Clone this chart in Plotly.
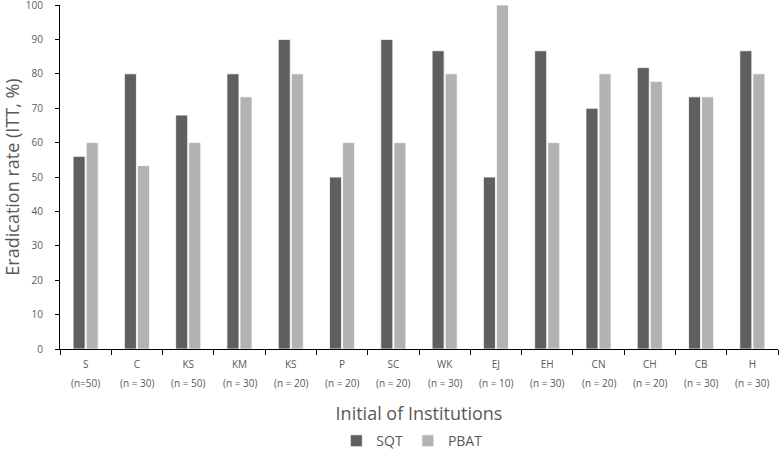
import plotly.graph_objects as go

institutions = ["S", "C", "KS", "KM", "KS", "P", "SC", "WK", "EJ", "EH", "CN", "CH", "CB", "H"]
n_labels = ["(n=50)", "(n = 30)", "(n = 50)", "(n = 30)", "(n = 20)", "(n = 20)", "(n = 20)",
            "(n = 30)", "(n = 10)", "(n = 30)", "(n = 20)", "(n = 20)", "(n = 30)", "(n = 30)"]
sqt = [56, 80, 68, 80, 90, 50, 90, 86.7, 50, 86.7, 70, 81.8, 73.3, 86.7]
pbat = [60, 53.3, 60, 73.3, 80, 60, 60, 80, 100, 60, 80, 77.8, 73.3, 80]
y_ticks = [0, 10, 20, 30, 40, 50, 60, 70, 80, 90, 100]

FONT = "Open Sans"
TXT = "#595959"
pos = list(range(len(institutions)))

fig = go.Figure()
fig.add_trace(go.Bar(x=pos, y=sqt, name="SQT", marker=dict(color="#5f5f5f", line=dict(color="white", width=0.8))))
fig.add_trace(go.Bar(x=pos, y=pbat, name="PBAT", marker=dict(color="#b2b2b2", line=dict(color="white", width=0.8))))

for i, t in zip(pos, n_labels):
    fig.add_annotation(x=i, y=0, xref="x", yref="y", text=t, showarrow=False,
                       yanchor="middle", yshift=-34, font=dict(family=FONT, size=10, color=TXT))

fig.update_layout(
    width=779, height=451,
    margin=dict(l=60, r=1, t=5, b=102, autoexpand=False),
    paper_bgcolor="white", plot_bgcolor="white",
    barmode="group", bargap=0.49, bargroupgap=0.08,
    font=dict(family=FONT, color=TXT),
    showlegend=True,
    legend=dict(orientation="h", x=0.49, xanchor="center", y=-0.268, yanchor="middle",
                font=dict(family=FONT, size=14, color=TXT),
                traceorder="normal"),
)
fig.update_xaxes(
    automargin=False,
    range=[-0.5, len(institutions) - 0.5],
    tickmode="array", tickvals=pos, ticktext=institutions,
    ticks="", showgrid=False, zeroline=False,
    showline=True, linecolor="#000000", linewidth=1,
    ticklabelstandoff=6,
    tickfont=dict(family=FONT, size=10, color=TXT),
    minor=dict(tickmode="array", tickvals=[p - 0.5 for p in pos] + [len(pos) - 0.5],
               ticks="outside", ticklen=5, tickcolor="#000000", tickwidth=1, showgrid=False),
    title=dict(text="Initial of Institutions", standoff=37,
               font=dict(family=FONT, size=18, color=TXT)),
)
fig.update_yaxes(
    automargin=False,
    range=[0, 100], tickmode="array", tickvals=y_ticks,
    ticks="outside", ticklen=4, tickcolor="#000000", tickwidth=1,
    showgrid=False, zeroline=False,
    showline=True, linecolor="#000000", linewidth=1,
    ticklabelstandoff=10, ticklabeloverflow="allow",
    tickfont=dict(family=FONT, size=10, color=TXT),
    title=dict(text="Eradication rate (ITT, %)", standoff=15,
               font=dict(family=FONT, size=18, color=TXT)),
)

fig.write_html("out.html", config={"displayModeBar": False},
               post_script="document.body.style.margin='0';")
